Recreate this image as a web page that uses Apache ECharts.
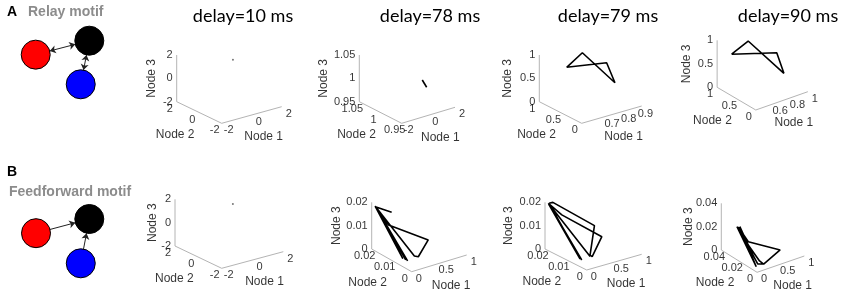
<!DOCTYPE html>
<html>
<head>
<meta charset="utf-8">
<script src="https://cdn.jsdelivr.net/npm/echarts@6/dist/echarts.min.js"></script>
<style>html,body{margin:0;padding:0;background:#fff}#main{width:843px;height:293px}</style>
</head>
<body>
<div id="main"></div>
<script>
// column titles and motif labels
const delays = ['delay=10 ms', 'delay=78 ms', 'delay=79 ms', 'delay=90 ms'];
const motifNames = ['Relay motif', 'Feedforward motif'];
const motifNodeX = [0, 1, 0.84];
const motifNodeY = [0.68, 1, 0];
const motifColors = ['#ff0000', '#000000', '#0000ff'];

// tick values
const ticksPm2 = [-2, 0, 2];
const ticksNear1 = [0.95, 1, 1.05];
const ticks01 = [0, 0.5, 1];
const ticksX79 = [0.7, 0.8, 0.9];
const ticksX90 = [0.6, 0.8, 1];
const ticks002 = [0, 0.01, 0.02];
const ticks004 = [0, 0.02, 0.04];

// trajectories, each point is [node1, node2, node3]
const relay10 = [[1, 1, 1]];
const relay78 = [[1, 0.9958, 0.9959], [1, 0.9854, 0.9851]];
const relay79 = [[0.597, 0.5, 0.93], [0.742, 0.70, 1.0], [0.817, 0.226, 0.5], [0.795, 0.336, 0.9], [0.597, 0.5, 0.93]];
const relay90 = [[0.478, 0.8, 0.75], [0.615, 0.68, 1], [0.822, 0.22, 0.4], [0.764, 0.275, 0.85], [0.478, 0.8, 0.75]];
const ff10 = [[1, 1, 1]];
const ff78 = [[0.174, 0.0148, 0.017], [0, 0.0182, 0.019], [0.078, 0.0042, 0.002], [0.01, 0.0182, 0.0188],
  [0.076, 0.0051, 0.002], [0, 0.0183, 0.0192], [0.05, 0.0058, 0.0024], [0.005, 0.0182, 0.019],
  [0.02, 0.0121, 0.014], [0.566, 0.0073, 0.006], [0.342, 0.0061, 0.001], [0.31, 0.0072, 0.001], [0.01, 0.0182, 0.0188]];
const ff79 = [[0.05, 0.0197, 0.0194], [0.065, 0.0041, 0.002], [0.05, 0.0195, 0.019], [0.07, 0.005, 0.002],
  [0.06, 0.0196, 0.0194], [0.09, 0.0186, 0.02], [0.52, 0.01, 0.011], [0.33, 0.0071, 0.001], [0.35, 0.0066, 0.0004],
  [0.62, 0.0091, 0.006], [0.12, 0.0151, 0.016], [0.05, 0.0197, 0.0194], [0.32, 0.0068, 0.0006]];
const ff90 = [[0.11, 0.0283, 0.024], [0.06, 0.0041, 0.002], [0.15, 0.0272, 0.024], [0.12, 0.0162, 0.014],
  [0.2, 0.0078, 0.0032], [0.24, 0.0053, 0.0012], [0.7, 0.0112, 0.004], [0.14, 0.0172, 0.016],
  [0.12, 0.0274, 0.024], [0.14, 0.0067, 0.002], [0.24, 0.0053, 0.0012]];

// panel layout: origin corner, projected unit vectors of Node 1 / Node 2, height of Node 3
const panels = [
  {ox: 221.7, oy: 123.3, e1: [60, -16.6], e2: [-45, -21.6], h: 46.7, r1: [-2, 2], r2: [-2, 2], r3: [-2, 2], t1: ticksPm2, t2: ticksPm2, t3: ticksPm2, data: relay10, zt: -25},
  {ox: 401.7, oy: 123.3, e1: [53.3, -16], e2: [-42.4, -21.6], h: 46.7, r1: [-2, 2], r2: [0.95, 1.05], r3: [0.95, 1.05], t1: ticksPm2, t2: ticksNear1, t3: ticksNear1, data: relay78, zt: -36},
  {ox: 581.7, oy: 123.3, e1: [60, -17.3], e2: [-42.4, -21.6], h: 46.7, r1: [0.56, 0.92], r2: [0, 1], r3: [0, 1], t1: ticksX79, t2: ticks01, t3: ticks01, data: relay79, zt: -32},
  {ox: 766, oy: 110, e1: [59.7, -18.3], e2: [-44.3, -22.7], h: 47, r1: [0.4, 1], r2: [0, 1], r3: [0, 1], t1: ticksX90, t2: ticks01, t3: ticks01, data: relay90, zt: -30},
  {ox: 221.7, oy: 268.3, e1: [61.6, -16.6], e2: [-46.7, -22.3], h: 46.7, r1: [-2, 2], r2: [-2, 2], r3: [-2, 2], t1: ticksPm2, t2: ticksPm2, t3: ticksPm2, data: ff10, zt: -22},
  {ox: 411.7, oy: 271.7, e1: [55, -16.7], e2: [-40, -22.7], h: 46.7, r1: [0, 1], r2: [0, 0.02], r3: [0, 0.02], t1: ticks01, t2: ticks002, t3: ticks002, data: ff78, zt: -35},
  {ox: 586.7, oy: 270, e1: [55, -15.7], e2: [-41.7, -21], h: 46.7, r1: [0, 1], r2: [0, 0.02], r3: [0, 0.02], t1: ticks01, t2: ticks002, t3: ticks002, data: ff79, zt: -36},
  {ox: 768.3, oy: 272.3, e1: [55, -16.3], e2: [-41.6, -22.3], h: 46.7, r1: [0, 1], r2: [0, 0.04], r3: [0, 0.04], t1: ticks01, t2: ticks004, t3: ticks004, data: ff90, zt: -33}
];

const chart = echarts.init(document.getElementById('main'));
const tickFont = {fontFamily: 'Liberation Sans', fontSize: 11, color: '#000'};

function project(p, a, b, c) {
  const fa = (a - p.r1[0]) / (p.r1[1] - p.r1[0]);
  const fb = (b - p.r2[0]) / (p.r2[1] - p.r2[0]);
  const fc = (c - p.r3[0]) / (p.r3[1] - p.r3[0]);
  return [fa * p.e1[0] + fb * p.e2[0], -(fa * p.e1[1] + fb * p.e2[1]) + fc * p.h];
}

const grids = [], xAxes = [], yAxes = [], series = [];
panels.forEach((p, i) => {
  grids.push({left: p.ox - 80, top: p.oy - 90, width: 180, height: 110});
  xAxes.push({type: 'value', gridIndex: i, min: -80, max: 100, show: false});
  yAxes.push({type: 'value', gridIndex: i, min: -20, max: 90, show: false});
  const a0 = p.r1[0], a1 = p.r1[1], b0 = p.r2[0], b1 = p.r2[1], c0 = p.r3[0], c1 = p.r3[1];
  const ax = {xAxisIndex: i, yAxisIndex: i, silent: true, animation: false};
  // box edges
  series.push(Object.assign({
    type: 'line', symbol: 'none', clip: false,
    lineStyle: {color: '#b4b4b4', width: 1},
    data: [project(p, a0, b1, c1), project(p, a0, b1, c0), project(p, a0, b0, c0), project(p, a1, b0, c0)]
  }, ax));
  // tick labels
  const labs = [];
  p.t3.forEach(v => labs.push({value: project(p, a0, b1, v), name: String(v),
    label: {position: 'left', distance: 4}}));
  p.t2.forEach(v => labs.push({value: project(p, a0, v, c0), name: String(v),
    label: {position: 'inside', offset: [-7, 7]}}));
  p.t1.forEach(v => labs.push({value: project(p, v, b0, c0), name: String(v),
    label: {position: 'inside', offset: [7, 7]}}));
  // axis titles (the rotated label takes its offset in the rotated frame)
  labs.push({value: project(p, a0, b1, (c0 + c1) / 2), name: 'Node 3',
    label: {position: 'inside', offset: [0, p.zt], rotate: 90, fontSize: 12}});
  labs.push({value: project(p, a0, (b0 + b1) / 2, c0), name: 'Node 2',
    label: {position: 'inside', offset: [-24, 22], fontSize: 12}});
  labs.push({value: project(p, (a0 + a1) / 2, b0, c0), name: 'Node 1',
    label: {position: 'inside', offset: [12, 22], fontSize: 12}});
  series.push(Object.assign({
    type: 'scatter', symbolSize: 0, clip: false,
    label: Object.assign({show: true, formatter: '{b}'}, tickFont),
    data: labs
  }, ax));
  // trajectory
  const single = p.data.length === 1;
  series.push(Object.assign({
    type: 'line', clip: false,
    showSymbol: single, symbol: 'circle', symbolSize: 2,
    itemStyle: {color: '#777'},
    lineStyle: {color: '#000', width: 1.6},
    data: p.data.map(d => project(p, d[0], d[1], d[2]))
  }, ax));
});

// motif diagrams
const motifGrids = [
  {left: 35.7, top: 40.7, width: 53.6, height: 43.6},
  {left: 36, top: 219, width: 53.3, height: 44.3}
];
const motifLinks = [
  [{source: 0, target: 1, symbol: ['arrow', 'arrow']}, {source: 2, target: 1, symbol: ['arrow', 'arrow']}],
  [{source: 0, target: 1}, {source: 2, target: 1}]
];
motifGrids.forEach((g, k) => {
  const gi = grids.length;
  grids.push(g);
  xAxes.push({type: 'value', gridIndex: gi, min: 0, max: 1, show: false});
  yAxes.push({type: 'value', gridIndex: gi, min: 0, max: 1, show: false});
  series.push({
    type: 'graph', coordinateSystem: 'cartesian2d', xAxisIndex: gi, yAxisIndex: gi,
    silent: true, animation: false,
    symbolSize: 29,
    edgeSymbol: ['none', 'arrow'], edgeSymbolSize: 6,
    lineStyle: {color: '#222', width: 1, opacity: 1},
    data: motifNodeX.map((x, i) => ({value: [x, motifNodeY[i]],
      itemStyle: {color: motifColors[i], borderColor: '#000', borderWidth: 1}})),
    links: motifLinks[k]
  });
});

const titleStyle = {fill: '#000', font: '18px Lato', textAlign: 'center', textVerticalAlign: 'middle'};
const titleX = [243, 430, 608, 788];
const graphics = delays.map((t, i) => ({type: 'text', x: titleX[i], y: 16,
  style: Object.assign({text: t}, titleStyle)}));
graphics.push({type: 'text', x: 7, y: 12, style: {text: 'A', font: 'bold 14px "Liberation Sans"', fill: '#000', textVerticalAlign: 'middle'}});
graphics.push({type: 'text', x: 28, y: 12, style: {text: motifNames[0], font: 'bold 14px "Liberation Sans"', fill: '#8c8c8c', textVerticalAlign: 'middle'}});
graphics.push({type: 'text', x: 7, y: 172, style: {text: 'B', font: 'bold 14px "Liberation Sans"', fill: '#000', textVerticalAlign: 'middle'}});
graphics.push({type: 'text', x: 9, y: 192, style: {text: motifNames[1], font: 'bold 14px "Liberation Sans"', fill: '#8c8c8c', textVerticalAlign: 'middle'}});

chart.setOption({
  backgroundColor: '#fff',
  animation: false,
  grid: grids,
  xAxis: xAxes,
  yAxis: yAxes,
  graphic: graphics,
  series: series
});
</script>
</body>
</html>
